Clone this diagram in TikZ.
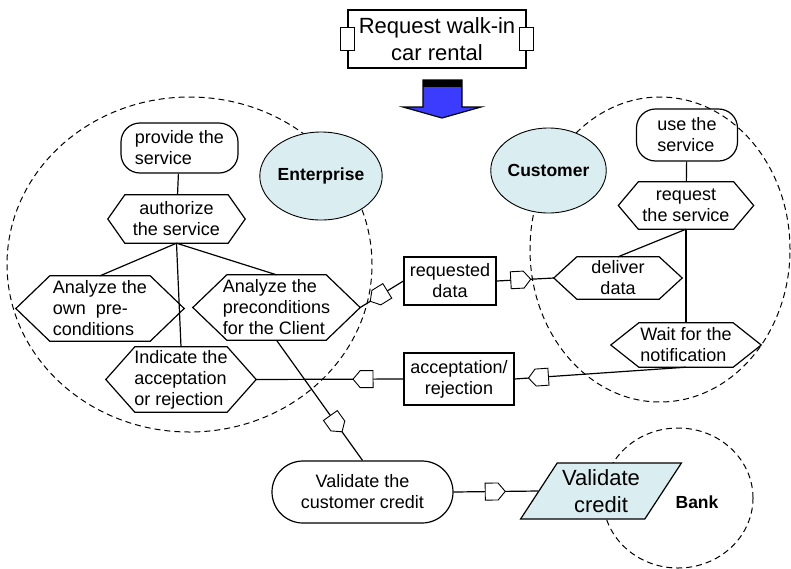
\documentclass[tikz,border=0pt]{standalone}
\usepackage{fontspec}
\setmainfont{Liberation Sans}
\usetikzlibrary{shapes.geometric,shapes.symbols}

\definecolor{rolefill}{RGB}{218,238,241}
\definecolor{arrowblue}{RGB}{60,60,255}

% hexagon outline round a named node
\newcommand{\hexframe}[2]{%
  \draw[edge] (#1.west) -- ([xshift=#2]#1.north west) -- ([xshift=-#2]#1.north east)
    -- (#1.east) -- ([xshift=-#2]#1.south east) -- ([xshift=#2]#1.south west) -- cycle;}

\begin{document}
\begin{tikzpicture}[
    x=1pt, y=-1pt,
    edge/.style={line width=1.2pt, -},
    scopeline/.style={line width=1pt, dash pattern=on 6pt off 4pt},
    txt/.style={font=\fontsize{18}{21}\selectfont, inner sep=1pt},
    activity/.style={txt, draw, line width=1.2pt, rectangle, rounded corners=19pt, align=left},
    hexnode/.style={txt, rectangle},
    databox/.style={txt, draw, line width=1.2pt, rectangle, align=center},
    tab/.style={draw, fill=white, line width=1.2pt, minimum width=14pt, minimum height=23pt, inner sep=0pt},
    role/.style={ellipse, draw, line width=0.9pt, fill=rolefill, inner sep=0pt, font=\fontsize{17.5}{21}\selectfont\bfseries},
    msg/.style={signal, signal to=east, signal pointer angle=100, draw, fill=white, line width=0.9pt,
        sloped, allow upside down, minimum width=20pt, minimum height=17pt, inner sep=0pt}
]
\useasboundingbox (0,0) rectangle (791,568);

% Define scopes
\draw[scopeline] (189.5,264.5) ellipse [x radius=182.5pt, y radius=167.5pt];
\draw[scopeline] (660,249.5) ellipse [x radius=130pt, y radius=152.5pt];
\draw[scopeline] (678,498) ellipse [x radius=75pt, y radius=70pt];

% Define process and arrow
\node[databox, font=\fontsize{22}{27}\selectfont, minimum width=178pt, minimum height=58pt] (walkin) at (437,39) {Request walk-in\\car rental};
\node[tab] (tabL) at (walkin.west) {};
\node[tab] (tabR) at (walkin.east) {};
\filldraw[fill=arrowblue, line width=1.2pt] (423,80) -- (462,80) -- (462,107) -- (481,107) -- (442,118) -- (403,107) -- (423,107) -- cycle;
\fill (423,80) rectangle (462,87);

% Define roles
\node[role, minimum width=104pt, minimum height=88pt] (enterprise) at (321,176) {Enterprise};
\node[role, minimum width=111pt, minimum height=85pt] (customer) at (548.5,170.5) {Customer};
\node[font=\fontsize{17.5}{21}\selectfont\bfseries] (bank) at (697,502) {Bank};

% Define enterprise activities
\node[activity, minimum width=117pt, minimum height=50pt] (provide) at (179.5,148) {provide the\\service};
\node[hexnode, align=center, minimum width=137pt, minimum height=48pt] (authorize) at (176.5,219) {authorize\\the service};
\node[hexnode, align=left, minimum width=168pt, minimum height=65pt] (anaown) at (100,308.5) {Analyze the\\own\ \ pre-\\conditions};
\node[hexnode, align=left, minimum width=167pt, minimum height=65pt] (anaclient) at (276.5,307.5) {Analyze the\\preconditions\\for the Client};
\node[hexnode, align=left, minimum width=150pt, minimum height=65pt] (indicate) at (181,379.5) {Indicate the\\acceptation\\or rejection};
\hexframe{authorize}{17pt}
\hexframe{anaown}{34pt}
\hexframe{anaclient}{34pt}
\hexframe{indicate}{29pt}

% Define customer activities
\node[activity, minimum width=101pt, minimum height=52pt] (use) at (687,135) {use the\\service};
\node[hexnode, align=center, minimum width=135pt, minimum height=47pt] (request) at (686,205.5) {request\\the service};
\node[hexnode, align=center, minimum width=128pt, minimum height=42pt] (deliver) at (618,278) {deliver\\data};
\node[hexnode, align=left, minimum width=150pt, minimum height=44pt] (wait) at (686,345) {Wait for the\\notification};
\hexframe{request}{20pt}
\hexframe{deliver}{23pt}
\hexframe{wait}{28pt}

% Define data and credit check
\node[databox, minimum width=92pt, minimum height=48pt] (reqdata) at (450,281) {requested\\data};
\node[databox, minimum width=110pt, minimum height=52pt] (accept) at (459,379) {acceptation/\\rejection};
\node[activity, rounded corners=31pt, align=center, minimum width=181pt, minimum height=62pt] (valcust) at (362.5,492) {Validate the\\customer credit};
\node[trapezium, trapezium left angle=53, trapezium right angle=127, trapezium stretches=true,
    draw, line width=1.2pt, fill=rolefill, minimum width=161pt, minimum height=56pt, inner sep=0pt,
    font=\fontsize{22}{27}\selectfont, align=center] (valcred) at (601,491) {Validate\\credit};

% Define edges
\draw[edge] (provide) -- (authorize);
\draw[edge] (authorize.south) -- (anaown.north);
\draw[edge] (authorize.south) -- (anaclient.north);
\draw[edge] (authorize.south) -- (indicate.north);
\draw[edge] (use) -- (request);
\draw[edge] (request.south) -- (deliver.north);
\draw[edge] (request.south) -- (wait.north);

% Define message flows
\draw[edge] (reqdata.west) -- node[msg, pos=0.5] (m1) {} (anaclient.east);
\draw[edge] (reqdata.east) -- node[msg, pos=0.36] (m2) {} (deliver.west);
\draw[edge] (accept.west) -- node[msg, pos=0.25] (m3) {} (indicate.east);
\draw[edge] (wait.south) -- node[msg, pos=0.84] (m4) {} (accept.east);
\draw[edge] (anaclient.south) -- node[msg, pos=0.67] (m5) {} (valcust.north);
\draw[edge] (valcust.east) -- node[msg, pos=0.45] (m6) {} (valcred.west);

\end{tikzpicture}
\end{document}
